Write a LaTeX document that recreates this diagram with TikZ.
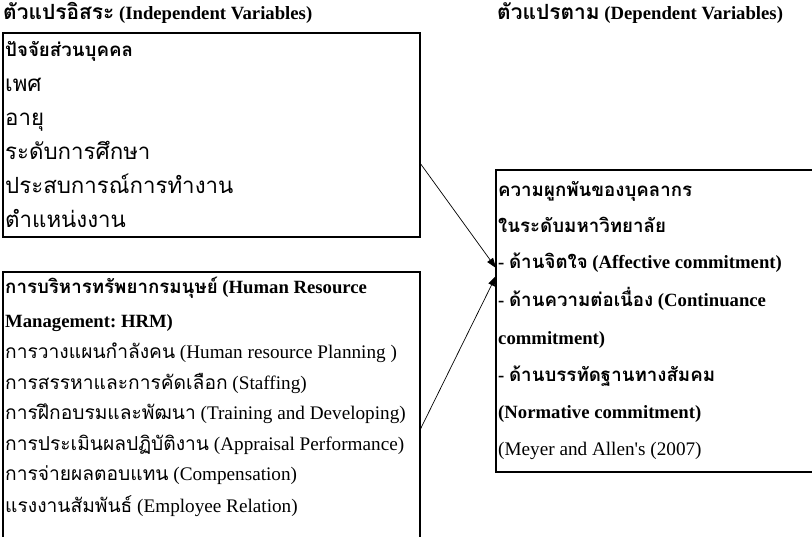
\documentclass[tikz,border=0pt]{standalone}
\usepackage{fontspec}
\setmainfont{Liberation Serif}
\newfontfamily\thai[Script=Thai]{Loma}
\newfontfamily\thaiA[Script=Thai,Scale=1.16]{Loma}
\newfontfamily\thaiT[Script=Thai,Scale=1.12]{Loma}
\usetikzlibrary{arrows.meta,calc}
\begin{document}
\frenchspacing
\begin{tikzpicture}[x=1pt,y=-1pt,
  txt/.style={anchor=base west, inner sep=0pt, font=\fontsize{19.2}{22}\selectfont},
  bt/.style={anchor=base west, inner sep=0pt, font=\fontsize{18.7}{22}\selectfont\bfseries},
  boxframe/.style={draw, line width=1.3pt, inner sep=0pt, outer sep=0pt, anchor=north west},
  conn/.style={line width=0.7pt, -{Triangle[length=10pt,width=7pt]}}]
\useasboundingbox (0,0) rectangle (812,537);
\begin{scope}
\clip (0,0) rectangle (812,537);
\node[boxframe, minimum width=417pt, minimum height=204pt] (b1) at (3,33) {};
\node[boxframe, minimum width=417pt, minimum height=300pt] (b2) at (3,272) {};
\node[boxframe, minimum width=340pt, minimum height=302pt] (b3) at (496,170) {};
\end{scope}
% titles
\node[bt] (ti1) at (3,20) {{\thaiT ตัวแปรอิสระ} (Independent Variables)};
\node[bt] (ti2) at (497,20) {{\thaiT ตัวแปรตาม} (Dependent Variables)};
% box 1
\node[bt] (p0) at (5,57) {\thai ปัจจัยส่วนบุคคล};
\node[txt] (p1) at (5,92) {\thaiA เพศ};
\node[txt] (p2) at (5,126) {\thaiA อายุ};
\node[txt] (p3) at (5,160) {\thaiA ระดับการศึกษา};
\node[txt] (p4) at (5,194) {\thaiA ประสบการณ์การทำงาน};
\node[txt] (p5) at (5,228) {\thaiA ตำแหน่งงาน};
% box 2
\node[bt] (h0) at (5,294) {{\thai การบริหารทรัพยากรมนุษย์} (Human Resource};
\node[bt] (h1) at (5,328) {Management: HRM)};
\node[txt] (h2) at (5,359) {{\thai การวางแผนกำลังคน} (Human resource Planning )};
\node[txt] (h3) at (5,390) {{\thai การสรรหาและการคัดเลือก} (Staffing)};
\node[txt] (h4) at (5,420) {{\thai การฝึกอบรมและพัฒนา} (Training and Developing)};
\node[txt] (h5) at (5,451) {{\thai การประเมินผลปฏิบัติงาน} (Appraisal Performance)};
\node[txt] (h6) at (5,481) {{\thai การจ่ายผลตอบแทน} (Compensation)};
\node[txt] (h7) at (5,512) {{\thai แรงงานสัมพันธ์} (Employee Relation)};
% box 3
\node[bt] (d0) at (498,197) {\thai ความผูกพันของบุคลากร};
\node[bt] (d1) at (498,233) {\thai ในระดับมหาวิทยาลัย};
\node[bt] (d2) at (498,269) {- {\thai ด้านจิตใจ} (Affective commitment)};
\node[bt] (d3) at (498,307) {- {\thai ด้านความต่อเนื่อง} (Continuance};
\node[bt] (d4) at (498,345) {commitment)};
\node[bt] (d5) at (498,382) {- {\thai ด้านบรรทัดฐานทางสัมคม}};
\node[bt] (d6) at (498,419) {(Normative commitment)};
\node[txt] (d7) at (498,456) {(Meyer and Allen\textquotesingle s (2007)};
% connectors
\coordinate (s1) at ($(b1.north east)+(0,130)$);
\coordinate (e1) at ($(b3.north west)+(0,98)$);
\coordinate (s2) at ($(b2.north east)+(0,158)$);
\coordinate (e2) at ($(b3.north west)+(0,106)$);
\draw[conn] (s1) -- (e1);
\draw[conn] (s2) -- (e2);
\end{tikzpicture}
\end{document}
